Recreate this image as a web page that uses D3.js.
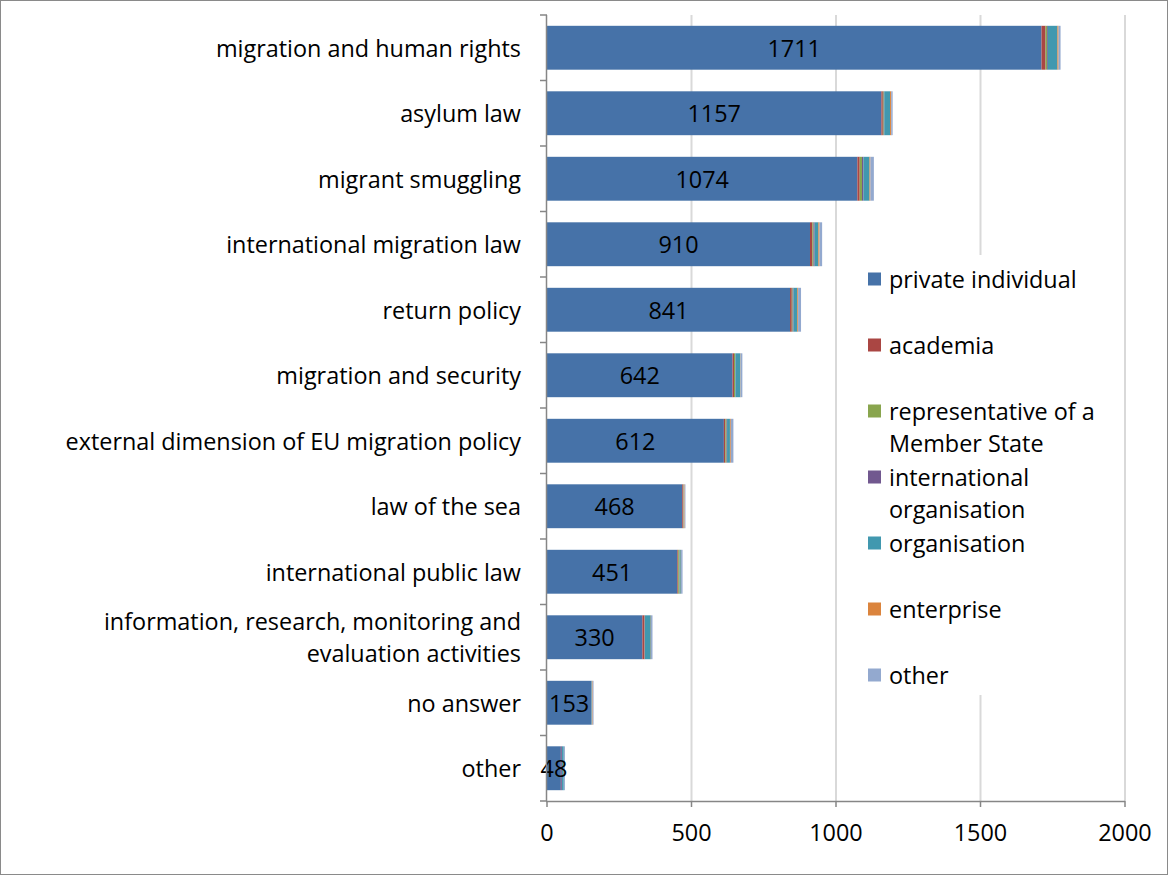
<!DOCTYPE html>
<html>
<head>
<meta charset="utf-8">
<script src="https://d3js.org/d3.v7.min.js"></script>
<style>
  html, body { margin: 0; padding: 0; background: #fff; }
  text { font-family: "Open Sans", "Liberation Sans", sans-serif; }
</style>
</head>
<body>
<svg id="chart" width="1168" height="875"></svg>
<script>
const categories = [
  "migration and human rights",
  "asylum law",
  "migrant smuggling",
  "international migration law",
  "return policy",
  "migration and security",
  "external dimension of EU migration policy",
  "law of the sea",
  "international public law",
  "information, research, monitoring and|evaluation activities",
  "no answer",
  "other"
];
const privateIndividual = [1711, 1157, 1074, 910, 841, 642, 612, 468, 451, 330, 153, 48];
const academia          = [14, 5, 8, 8, 6, 5, 5, 3, 3, 7, 1, 1];
const memberState       = [5, 3, 8, 4, 3, 4, 4, 1, 4, 1, 0, 0];
const intlOrganisation  = [3, 2, 5, 4, 3, 1, 2, 0, 1, 1, 0, 3];
const organisation      = [33, 20, 21, 13, 13, 17, 10, 1, 4, 20, 2, 6];
const enterprise        = [4, 4, 3, 4, 3, 1, 3, 3, 1, 1, 2, 0];
const otherType         = [7, 5, 12, 9, 10, 6, 9, 3, 5, 5, 3, 4];
const seriesNames = ["private individual", "academia", "representative of a|Member State",
  "international|organisation", "organisation", "enterprise", "other"];
const seriesValues = [privateIndividual, academia, memberState, intlOrganisation, organisation, enterprise, otherType];
const seriesColors = ["#4672A8", "#AA4643", "#89A54E", "#71588F", "#4198AF", "#DB843D", "#93A9CF"];
const xTicks = [0, 500, 1000, 1500, 2000];

const FS = 23.4;
const svg = d3.select("#chart");
const x = d3.scaleLinear().domain([0, 2000]).range([547, 1125]);
const y = d3.scaleBand().domain(categories).range([15, 801]).paddingInner(0.33).paddingOuter(0.165);

// border
svg.append("rect").attr("x", 0.5).attr("y", 0.5).attr("width", 1167).attr("height", 874)
  .attr("fill", "#fff").attr("stroke", "#8a8a8a");

// gridlines
svg.append("g").selectAll("line").data(xTicks.slice(1)).join("line")
  .attr("x1", d => x(d)).attr("x2", d => x(d)).attr("y1", 15).attr("y2", 801)
  .attr("stroke", "#D9D9D9").attr("stroke-width", 2);

// stacked bars
const table = categories.map((c, i) => {
  const o = { cat: c };
  seriesValues.forEach((s, k) => o["s" + k] = s[i]);
  return o;
});
const stack = d3.stack().keys(seriesValues.map((s, k) => "s" + k));
const stacked = stack(table);
svg.append("g").selectAll("g").data(stacked).join("g")
  .attr("fill", (d, k) => seriesColors[k])
  .selectAll("rect").data(d => d).join("rect")
  .attr("x", d => x(d[0]))
  .attr("width", d => Math.max(0, x(d[1]) - x(d[0])))
  .attr("y", d => y(d.data.cat))
  .attr("height", y.bandwidth());

// value labels for private individual
svg.append("g").selectAll("text").data(stacked[0]).join("text")
  .attr("x", d => (x(d[0]) + x(d[1])) / 2)
  .attr("y", d => y(d.data.cat) + y.bandwidth() / 2)
  .attr("dy", "0.38em")
  .attr("text-anchor", "middle")
  .attr("font-size", FS)
  .attr("fill", "#000")
  .text(d => d.data.s0);

// category axis line and ticks
const axisG = svg.append("g");
axisG.append("line").attr("x1", 546.5).attr("x2", 546.5).attr("y1", 15).attr("y2", 801)
  .attr("stroke", "#868686").attr("stroke-width", 1.5);
const step = y.step();
const bounds = d3.range(categories.length + 1).map(i => 15 + i * step);
axisG.selectAll("line.t").data(bounds).join("line").attr("class", "t")
  .attr("x1", 540).attr("x2", 547).attr("y1", d => d).attr("y2", d => d)
  .attr("stroke", "#868686").attr("stroke-width", 1.5);

// value axis line
axisG.append("line").attr("x1", 546).attr("x2", 1125).attr("y1", 801.5).attr("y2", 801.5)
  .attr("stroke", "#868686").attr("stroke-width", 1.5);
axisG.selectAll("line.vt").data(xTicks).join("line").attr("class", "vt")
  .attr("x1", d => x(d)).attr("x2", d => x(d)).attr("y1", 801).attr("y2", 807)
  .attr("stroke", "#868686").attr("stroke-width", 1.5);

// x tick labels
svg.append("g").selectAll("text").data(xTicks).join("text")
  .attr("x", d => x(d)).attr("y", 832).attr("dy", "0.38em")
  .attr("text-anchor", "middle").attr("font-size", FS).attr("fill", "#000")
  .text(d => d);

// category labels
const catG = svg.append("g");
categories.forEach(c => {
  const lines = c.split("|");
  const cy = y(c) + y.bandwidth() / 2;
  const lh = 32;
  lines.forEach((ln, j) => {
    catG.append("text")
      .attr("x", 521)
      .attr("y", cy + (j - (lines.length - 1) / 2) * lh)
      .attr("dy", "0.38em")
      .attr("text-anchor", "end")
      .attr("font-size", FS)
      .attr("fill", "#000")
      .text(ln);
  });
});

// legend
const legend = svg.append("g");
legend.append("rect").attr("x", 860).attr("y", 255).attr("width", 240).attr("height", 440).attr("fill", "#fff");
const legendY = [279, 345, 411, 477, 543, 609, 675];
seriesNames.forEach((n, k) => {
  const ly = legendY[k];
  legend.append("rect").attr("x", 868).attr("y", ly - 6.5).attr("width", 13).attr("height", 13)
    .attr("fill", seriesColors[k]);
  n.split("|").forEach((ln, j) => {
    legend.append("text").attr("x", 889).attr("y", ly + j * 32).attr("dy", "0.38em")
      .attr("font-size", FS).attr("fill", "#000").text(ln);
  });
});
</script>
</body>
</html>
